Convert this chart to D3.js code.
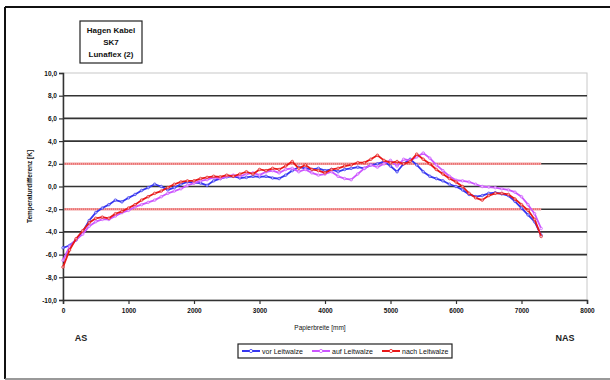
<!DOCTYPE html>
<html>
<head>
<meta charset="utf-8">
<script src="https://cdnjs.cloudflare.com/ajax/libs/d3/7.8.5/d3.min.js"></script>
<style>
  body { margin: 0; background: #fff; }
  text { font-family: "Liberation Sans", Arial, sans-serif; }
</style>
</head>
<body>
<div id="vis"></div>
<script>
var width = 610;
var height = 380;

var margin = {top: 73, right: 23, bottom: 80, left: 63};

// Papierbreite [mm]
var positions = [0, 100, 200, 300, 400, 500, 600, 700, 800, 900,
  1000, 1100, 1200, 1300, 1400, 1500, 1600, 1700, 1800, 1900,
  2000, 2100, 2200, 2300, 2400, 2500, 2600, 2700, 2800, 2900,
  3000, 3100, 3200, 3300, 3400, 3500, 3600, 3700, 3800, 3900,
  4000, 4100, 4200, 4300, 4400, 4500, 4600, 4700, 4800, 4900,
  5000, 5100, 5200, 5300, 5400, 5500, 5600, 5700, 5800, 5900,
  6000, 6100, 6200, 6300, 6400, 6500, 6600, 6700, 6800, 6900,
  7000, 7100, 7200, 7300];

var vor_leitwalze = [-5.4, -5.2, -4.7, -4.0, -3.0, -2.3, -1.9, -1.6, -1.2, -1.35,
  -1.0, -0.7, -0.35, -0.1, 0.2, 0.0, -0.3, -0.1, 0.2, 0.4,
  0.35, 0.3, 0.1, 0.5, 0.7, 0.85, 0.9, 0.75, 0.8, 0.9,
  0.85, 0.9, 0.75, 0.7, 1.0, 1.4, 1.7, 1.6, 1.5, 1.6,
  1.4, 1.5, 1.3, 1.5, 1.6, 1.7, 1.6, 1.9, 2.0, 2.2,
  1.8, 1.3, 2.0, 2.4, 1.9, 1.3, 0.9, 0.7, 0.5, 0.2,
  0.0, -0.3, -0.7, -0.9, -0.8, -0.6, -0.55, -0.65, -0.8, -1.3,
  -1.9, -2.5, -3.1, -4.3];

var auf_leitwalze = [-6.5, -5.3, -4.7, -4.2, -3.5, -3.1, -2.9, -2.9, -2.6, -2.3,
  -2.1, -1.8, -1.6, -1.4, -1.2, -0.9, -0.6, -0.4, -0.2, 0.1,
  0.3, 0.5, 0.6, 0.8, 0.7, 0.9, 1.0, 0.9, 1.1, 1.2,
  1.0, 1.3, 1.4, 1.2, 1.5, 1.6, 1.3, 1.5, 1.2, 1.0,
  1.1, 1.3, 0.9, 0.7, 0.6, 1.1, 1.6, 1.9, 1.7, 2.0,
  2.3, 1.8, 2.4, 2.3, 2.6, 2.95, 2.5, 1.9, 1.4, 0.9,
  0.55, 0.5, 0.4, 0.2, 0.0, -0.05, -0.1, -0.2, -0.3, -0.5,
  -0.9, -1.6, -2.4, -3.7];

var nach_leitwalze = [-7.1, -5.6, -4.6, -3.9, -3.2, -2.8, -2.7, -2.8, -2.4, -2.2,
  -1.9, -1.6, -1.2, -0.9, -0.6, -0.4, -0.1, 0.2, 0.4, 0.5,
  0.5, 0.7, 0.8, 0.9, 0.85, 1.0, 0.9, 1.1, 1.3, 1.1,
  1.5, 1.4, 1.6, 1.5, 1.8, 2.2, 1.6, 1.9, 1.5, 1.4,
  1.2, 1.5, 1.6, 1.8, 1.9, 2.1, 2.1, 2.4, 2.75, 2.3,
  2.1, 2.2, 2.0, 2.2, 2.85, 2.4, 2.0, 1.5, 1.1, 0.7,
  0.4, 0.0, -0.6, -1.0, -1.2, -0.8, -0.6, -0.6, -0.7, -1.1,
  -1.6, -2.1, -2.9, -4.4];

var series_names = ["vor Leitwalze", "auf Leitwalze", "nach Leitwalze"];
var series_colors = ["#3636f0", "#cc55ff", "#e81818"];
var series_values = [vor_leitwalze, auf_leitwalze, nach_leitwalze];

var x_ticks = [0, 1000, 2000, 3000, 4000, 5000, 6000, 7000, 8000];
var y_ticks = [10, 8, 6, 4, 2, 0, -2, -4, -6, -8, -10];
var limit_values = [2, -2];
var limit_range = [0, 7300];

var title_lines = ["Hagen Kabel", "SK7", "Lunaflex (2)"];

var series = series_names.map(function(name, i){
  return {
    "key": name,
    "color": series_colors[i],
    "points": positions.map(function(p, j){ return [p, series_values[i][j]]; })
  };
});

var x_scale = d3.scaleLinear()
  .domain([0, 8000])
  .range([margin.left, width - margin.right]);

var y_scale = d3.scaleLinear()
  .domain([-10, 10])
  .range([height - margin.bottom, margin.top]);

var svg = d3.select("#vis").append("svg")
  .attr("width", width)
  .attr("height", height);

// outer frame
svg.append("line")
  .attr("x1", 5).attr("x2", width).attr("y1", 7).attr("y2", 7)
  .attr("stroke", "#111").attr("stroke-width", 2);
svg.append("line")
  .attr("x1", 5).attr("x2", 5).attr("y1", 7).attr("y2", 379)
  .attr("stroke", "#111").attr("stroke-width", 2);
svg.append("line")
  .attr("x1", 5).attr("x2", width).attr("y1", 379).attr("y2", 379)
  .attr("stroke", "#777").attr("stroke-width", 1.5);

// plot area border
svg.append("rect")
  .attr("x", x_scale(0))
  .attr("y", y_scale(10))
  .attr("width", x_scale(8000) - x_scale(0))
  .attr("height", y_scale(-10) - y_scale(10))
  .attr("fill", "none")
  .attr("stroke", "#c8c8c8")
  .attr("stroke-width", 1);

// gridlines
svg.append("g").selectAll(".grid")
  .data(y_ticks.filter(d => d != 10 && d != -10))
  .enter().append("line")
  .attr("class", "grid")
  .attr("x1", x_scale(0))
  .attr("x2", x_scale(8000))
  .attr("y1", d => y_scale(d))
  .attr("y2", d => y_scale(d))
  .attr("stroke", "#333")
  .attr("stroke-width", 1.6);

// red limit lines (dotted look)
svg.append("g").selectAll(".limit")
  .data(limit_values)
  .enter().append("line")
  .attr("class", "limit")
  .attr("x1", x_scale(limit_range[0]))
  .attr("x2", x_scale(limit_range[1]))
  .attr("y1", d => y_scale(d))
  .attr("y2", d => y_scale(d))
  .attr("stroke", "#f2a0a0")
  .attr("stroke-width", 2.4);

svg.append("g").selectAll(".limit-dots")
  .data(limit_values)
  .enter().append("line")
  .attr("class", "limit-dots")
  .attr("x1", x_scale(limit_range[0]))
  .attr("x2", x_scale(limit_range[1]))
  .attr("y1", d => y_scale(d))
  .attr("y2", d => y_scale(d))
  .attr("stroke", "#e86060")
  .attr("stroke-width", 1.2)
  .attr("stroke-dasharray", "1,1");

// axes
var y_axis = svg.append("g")
  .attr("transform", "translate(" + x_scale(0) + ",0)")
  .call(d3.axisLeft(y_scale)
    .tickValues(y_ticks)
    .tickSize(4)
    .tickFormat(d => d3.format(".1f")(d).replace(".", ",").replace("\u2212", "-")));

var x_axis = svg.append("g")
  .attr("transform", "translate(0," + y_scale(-10) + ")")
  .call(d3.axisBottom(x_scale)
    .tickValues(x_ticks)
    .tickSize(4)
    .tickFormat(d => d));

[x_axis, y_axis].forEach(function(ax){
  ax.select(".domain").attr("stroke", "#333").attr("stroke-width", 1.5);
  ax.selectAll(".tick line").attr("stroke", "#333").attr("stroke-width", 1.2);
  ax.selectAll(".tick text")
    .attr("fill", "#111")
    .style("font-size", "6.5px")
    .style("font-weight", "bold");
});
y_axis.selectAll(".tick text").attr("x", -6);
x_axis.selectAll(".tick text").attr("y", 8);

// series lines
var line_gen = d3.line()
  .x(d => x_scale(d[0]))
  .y(d => y_scale(d[1]));

var series_g = svg.append("g").selectAll(".series")
  .data(series)
  .enter().append("g")
  .attr("class", "series");

series_g.append("path")
  .attr("d", d => line_gen(d.points))
  .attr("fill", "none")
  .attr("stroke", d => d.color)
  .attr("stroke-width", 1.8)
  .attr("stroke-linejoin", "round");

series_g.selectAll(".marker")
  .data(d => d.points.map(p => ({"p": p, "color": d.color})))
  .enter().append("circle")
  .attr("class", "marker")
  .attr("cx", d => x_scale(d.p[0]))
  .attr("cy", d => y_scale(d.p[1]))
  .attr("r", 1.3)
  .attr("fill", "#fff")
  .attr("fill-opacity", 0.6)
  .attr("stroke", d => d.color)
  .attr("stroke-width", 0.7);

// title box
svg.append("rect")
  .attr("x", 80).attr("y", 21)
  .attr("width", 62).attr("height", 42)
  .attr("fill", "#fff")
  .attr("stroke", "#222")
  .attr("stroke-width", 1.2);

svg.append("g").selectAll("text")
  .data(title_lines)
  .enter().append("text")
  .attr("x", 111)
  .attr("y", (d, i) => 33 + i * 12)
  .attr("text-anchor", "middle")
  .style("font-size", "8px")
  .style("font-weight", "bold")
  .attr("fill", "#111")
  .text(d => d);

// axis titles
svg.append("text")
  .attr("transform", "translate(32," + y_scale(0) + ") rotate(-90)")
  .attr("text-anchor", "middle")
  .style("font-size", "6.5px")
  .style("font-weight", "bold")
  .attr("fill", "#111")
  .text("Temperaturdifferenz [K]");

svg.append("text")
  .attr("x", 320)
  .attr("y", 330)
  .attr("text-anchor", "middle")
  .style("font-size", "6.5px")
  .attr("fill", "#111")
  .text("Papierbreite [mm]");

svg.append("text")
  .attr("x", 81).attr("y", 341)
  .attr("text-anchor", "middle")
  .style("font-size", "9px")
  .style("font-weight", "bold")
  .attr("fill", "#222")
  .text("AS");

svg.append("text")
  .attr("x", 565).attr("y", 341)
  .attr("text-anchor", "middle")
  .style("font-size", "9px")
  .style("font-weight", "bold")
  .attr("fill", "#222")
  .text("NAS");

// legend
var legend = svg.append("g")
  .attr("transform", "translate(238,344)");

legend.append("rect")
  .attr("width", 214).attr("height", 14)
  .attr("fill", "#fff")
  .attr("stroke", "#222")
  .attr("stroke-width", 1.2);

var legend_item = legend.selectAll(".legend-item")
  .data(series)
  .enter().append("g")
  .attr("class", "legend-item")
  .attr("transform", (d, i) => "translate(" + (4 + i * 70) + ",7)");

legend_item.append("line")
  .attr("x1", 0).attr("x2", 18)
  .attr("stroke", d => d.color)
  .attr("stroke-width", 2);
legend_item.append("circle")
  .attr("cx", 9).attr("r", 1.6)
  .attr("fill", "#fff")
  .attr("stroke", d => d.color)
  .attr("stroke-width", 0.8);
legend_item.append("text")
  .attr("x", 20).attr("y", 2.5)
  .style("font-size", "7px")
  .attr("fill", "#111")
  .text(d => d.key);
</script>
</body>
</html>
